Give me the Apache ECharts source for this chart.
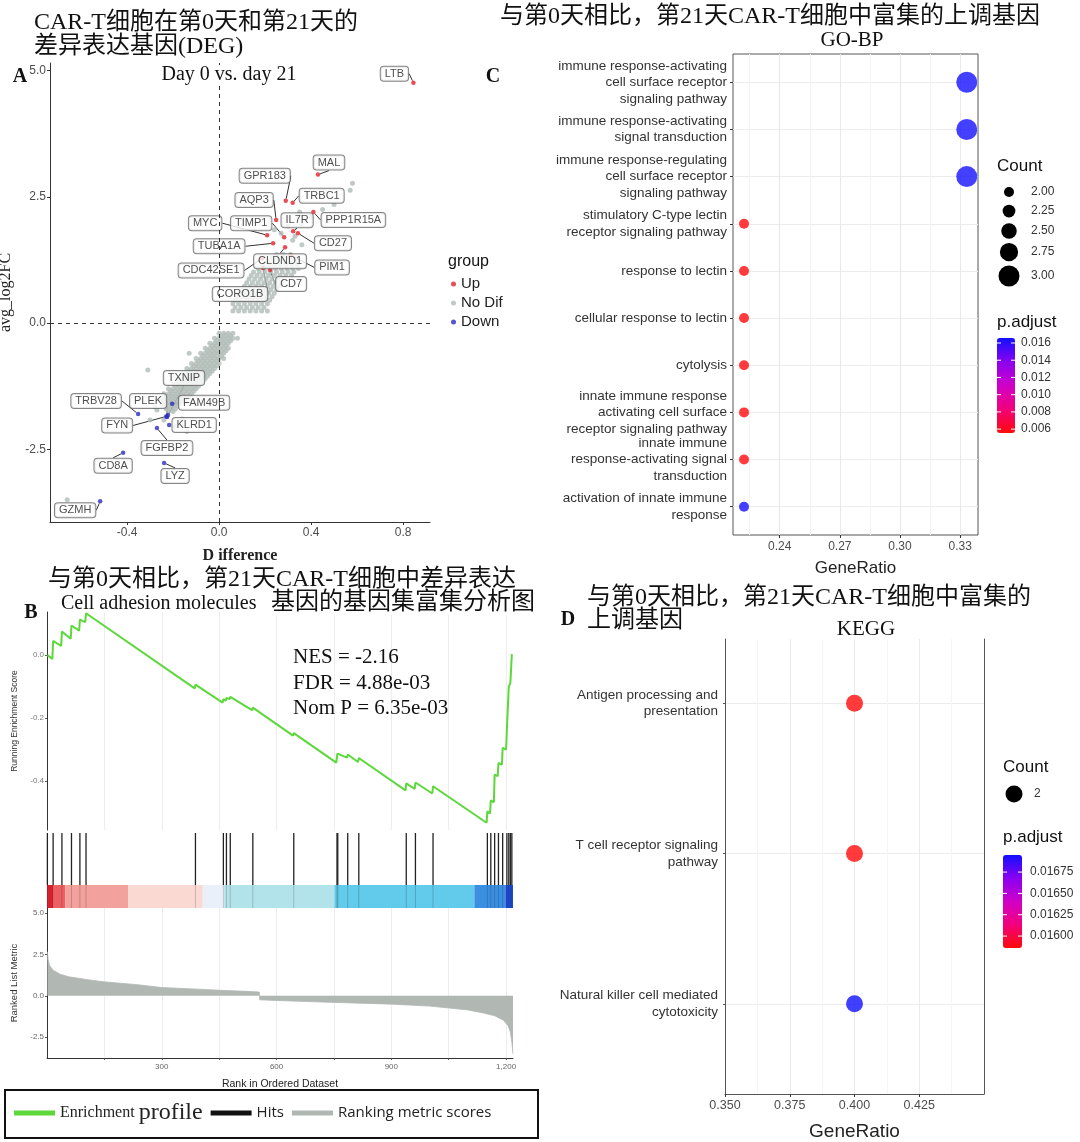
<!DOCTYPE html>
<html><head><meta charset="utf-8">
<script src="https://cdn.jsdelivr.net/npm/echarts@6/dist/echarts.min.js"></script>
<style>html,body{margin:0;padding:0;background:#fff}#c{width:1080px;height:1142px}</style>
</head><body><div id="c"></div><script>
// ================= DATA =================
// Panel A: "No Dif" genes read off the two dense gray clouds (upper and lower) plus scattered ones
const noDifUpper = [
 [0.06,0.24],[0.085,0.24],[0.11,0.24],[0.135,0.24],[0.16,0.24],[0.185,0.24],[0.21,0.24],
 [0.07,0.31],[0.095,0.31],[0.12,0.31],[0.145,0.31],[0.17,0.31],[0.195,0.31],
 [0.06,0.38],[0.085,0.38],[0.11,0.38],[0.135,0.38],[0.16,0.38],[0.185,0.38],[0.21,0.38],
 [0.07,0.45],[0.095,0.45],[0.12,0.45],[0.145,0.45],[0.17,0.45],[0.195,0.45],[0.22,0.45],
 [0.08,0.52],[0.105,0.52],[0.13,0.52],[0.155,0.52],[0.18,0.52],[0.205,0.52],[0.23,0.52],
 [0.09,0.59],[0.115,0.59],[0.14,0.59],[0.165,0.59],[0.19,0.59],[0.215,0.59],[0.24,0.59],
 [0.10,0.66],[0.125,0.66],[0.15,0.66],[0.175,0.66],[0.20,0.66],[0.225,0.66],[0.25,0.66],
 [0.11,0.73],[0.135,0.73],[0.16,0.73],[0.185,0.73],[0.21,0.73],[0.235,0.73],[0.26,0.73],
 [0.12,0.80],[0.145,0.80],[0.17,0.80],[0.195,0.80],[0.22,0.80],[0.245,0.80],[0.27,0.80],
 [0.13,0.87],[0.155,0.87],[0.18,0.87],[0.205,0.87],[0.23,0.87],[0.255,0.87],[0.28,0.87],
 [0.14,0.94],[0.165,0.94],[0.19,0.94],[0.215,0.94],[0.24,0.94],[0.265,0.94],[0.29,0.94],[0.315,0.94],
 [0.15,1.01],[0.175,1.01],[0.20,1.01],[0.225,1.01],[0.25,1.01],[0.275,1.01],[0.30,1.01],[0.325,1.01],
 [0.17,1.08],[0.195,1.08],[0.22,1.08],[0.245,1.08],[0.27,1.08],[0.295,1.08],[0.32,1.08],[0.345,1.08],
 [0.19,1.15],[0.215,1.15],[0.24,1.15],[0.265,1.15],[0.29,1.15],[0.315,1.15],[0.34,1.15],
 [0.21,1.22],[0.235,1.22],[0.26,1.22],[0.285,1.22],[0.31,1.22],[0.335,1.22],
 [0.23,1.29],[0.255,1.29],[0.28,1.29],[0.305,1.29],[0.33,1.29],
 [0.25,1.36],[0.28,1.36],[0.31,1.36]
];
const noDifLower = [
 [0.00,-0.20],[0.02,-0.20],[0.04,-0.20],[0.06,-0.20],
 [0.01,-0.25],[0.03,-0.25],[0.05,-0.25],
 [-0.02,-0.30],[0.00,-0.30],[0.02,-0.30],[0.04,-0.30],[0.06,-0.30],
 [-0.01,-0.35],[0.01,-0.35],[0.03,-0.35],[0.05,-0.35],
 [-0.04,-0.40],[-0.02,-0.40],[0.00,-0.40],[0.02,-0.40],[0.04,-0.40],
 [-0.03,-0.45],[-0.01,-0.45],[0.01,-0.45],[0.03,-0.45],
 [-0.06,-0.50],[-0.04,-0.50],[-0.02,-0.50],[0.00,-0.50],[0.02,-0.50],[0.04,-0.50],
 [-0.05,-0.55],[-0.03,-0.55],[-0.01,-0.55],[0.01,-0.55],[0.03,-0.55],
 [-0.08,-0.60],[-0.06,-0.60],[-0.04,-0.60],[-0.02,-0.60],[0.00,-0.60],[0.02,-0.60],
 [-0.07,-0.65],[-0.05,-0.65],[-0.03,-0.65],[-0.01,-0.65],[0.01,-0.65],
 [-0.10,-0.70],[-0.08,-0.70],[-0.06,-0.70],[-0.04,-0.70],[-0.02,-0.70],[0.00,-0.70],[0.02,-0.70],
 [-0.09,-0.75],[-0.07,-0.75],[-0.05,-0.75],[-0.03,-0.75],[-0.01,-0.75],
 [-0.12,-0.80],[-0.10,-0.80],[-0.08,-0.80],[-0.06,-0.80],[-0.04,-0.80],[-0.02,-0.80],[0.00,-0.80],
 [-0.11,-0.85],[-0.09,-0.85],[-0.07,-0.85],[-0.05,-0.85],[-0.03,-0.85],[-0.01,-0.85],
 [-0.14,-0.90],[-0.12,-0.90],[-0.10,-0.90],[-0.08,-0.90],[-0.06,-0.90],[-0.04,-0.90],[-0.02,-0.90],
 [-0.13,-0.95],[-0.11,-0.95],[-0.09,-0.95],[-0.07,-0.95],[-0.05,-0.95],[-0.03,-0.95],
 [-0.16,-1.00],[-0.14,-1.00],[-0.12,-1.00],[-0.10,-1.00],[-0.08,-1.00],[-0.06,-1.00],[-0.04,-1.00],
 [-0.15,-1.05],[-0.13,-1.05],[-0.11,-1.05],[-0.09,-1.05],[-0.07,-1.05],[-0.05,-1.05],
 [-0.18,-1.10],[-0.16,-1.10],[-0.14,-1.10],[-0.12,-1.10],[-0.10,-1.10],[-0.08,-1.10],[-0.06,-1.10],
 [-0.17,-1.15],[-0.15,-1.15],[-0.13,-1.15],[-0.11,-1.15],[-0.09,-1.15],[-0.07,-1.15],
 [-0.20,-1.20],[-0.18,-1.20],[-0.16,-1.20],[-0.14,-1.20],[-0.12,-1.20],[-0.10,-1.20],[-0.08,-1.20],
 [-0.19,-1.25],[-0.17,-1.25],[-0.15,-1.25],[-0.13,-1.25],[-0.11,-1.25],[-0.09,-1.25],
 [-0.22,-1.30],[-0.20,-1.30],[-0.18,-1.30],[-0.16,-1.30],[-0.14,-1.30],[-0.12,-1.30],[-0.10,-1.30],
 [-0.21,-1.35],[-0.19,-1.35],[-0.17,-1.35],[-0.15,-1.35],[-0.13,-1.35],[-0.11,-1.35],
 [-0.24,-1.40],[-0.22,-1.40],[-0.20,-1.40],[-0.18,-1.40],[-0.16,-1.40],[-0.14,-1.40],[-0.12,-1.40],
 [-0.23,-1.45],[-0.21,-1.45],[-0.19,-1.45],[-0.17,-1.45],[-0.15,-1.45],[-0.13,-1.45],
 [-0.25,-1.50],[-0.23,-1.50],[-0.21,-1.50],[-0.19,-1.50],[-0.17,-1.50],[-0.15,-1.50],
 [-0.24,-1.55],[-0.22,-1.55],[-0.20,-1.55],[-0.18,-1.55],[-0.16,-1.55],
 [-0.25,-1.60],[-0.23,-1.60],[-0.21,-1.60],[-0.19,-1.60],[-0.17,-1.60],
 [-0.24,-1.65],[-0.22,-1.65],[-0.20,-1.65],[-0.18,-1.65],
 [-0.23,-1.70],[-0.21,-1.70],[-0.19,-1.70],[-0.22,-1.75],[-0.20,-1.75]
];
const noDifSparse = [
 [0.24,1.85],[0.36,1.95],[0.30,1.92],[0.40,2.10],[0.35,2.20],[0.32,1.64],[0.36,1.55],[0.27,1.78],[0.33,1.72],
 [0.57,2.63],[0.58,2.77],[0.50,2.35],[0.45,2.25],
 [-0.31,-0.93],[-0.13,-0.60],[-0.28,-1.66],[-0.24,-1.92],[-0.27,-1.72],[-0.16,-1.90],[-0.19,-2.05],
 [-0.14,-2.15],[-0.30,-1.92],[0.08,-0.30],[-0.66,-3.50]
];
const upGenes  = ['LTB','MAL','GPR183','TRBC1','PPP1R15A','AQP3','IL7R','CD27','MYC','TIMP1','TUBA1A','CLDND1','PIM1','CDC42SE1','CD7','CORO1B'];
const upDiff   = [0.845,0.43,0.29,0.32,0.41,0.248,0.322,0.343,0.209,0.283,0.235,0.287,0.313,0.187,0.222,0.191];
const upLogFC  = [4.76,2.94,2.42,2.38,2.20,2.04,1.82,1.78,1.74,1.70,1.58,1.50,1.34,1.28,1.05,1.09];
const downGenes = ['TXNIP','TRBV28','PLEK','FAM49B','FYN','KLRD1','FGFBP2','CD8A','LYZ','GZMH'];
const downDiff  = [-0.222,-0.352,-0.226,-0.204,-0.230,-0.217,-0.270,-0.417,-0.239,-0.517];
const downLogFC = [-1.82,-1.80,-1.86,-1.60,-1.85,-2.02,-2.08,-2.57,-2.77,-3.53];
const aTicksX = [-0.4,0,0.4,0.8];
const aTicksY = [-2.5,0,2.5,5];

// Panel C: GO-BP dot plot
const goTerms = [
 'immune response-activating\ncell surface receptor\nsignaling pathway',
 'immune response-activating\nsignal transduction',
 'immune response-regulating\ncell surface receptor\nsignaling pathway',
 'stimulatory C-type lectin\nreceptor signaling pathway',
 'response to lectin',
 'cellular response to lectin',
 'cytolysis',
 'innate immune response\nactivating cell surface\nreceptor signaling pathway',
 'innate immune\nresponse-activating signal\ntransduction',
 'activation of innate immune\nresponse'
];
const goGeneRatio = [0.3333,0.3333,0.3333,0.2222,0.2222,0.2222,0.2222,0.2222,0.2222,0.2222];
const goCount     = [3,3,3,2,2,2,2,2,2,2];
const goPAdjust   = [0.0165,0.0165,0.0165,0.0056,0.0056,0.0056,0.0056,0.0056,0.0056,0.0165];
const goTicksX = [0.24,0.27,0.30,0.33];
const goMinorX = [0.225,0.255,0.285,0.315];
const goCountLegend = [2.00,2.25,2.50,2.75,3.00];
const goPadjTicks = [0.006,0.008,0.010,0.012,0.014,0.016];

// Panel B: GSEA
const esRank = [1,14,16,37,39,62,64,84,86,100,102,386,388,459,461,467,469,477,479,536,538,643,645,756,759,784,786,813,815,
 937,939,961,963,1007,1009,1149,1151,1158,1160,1168,1170,1178,1180,1189,1191,1200,1202,1205,1207,1209,1211,1213,1215];
const esValue = [0.0,-0.012,0.045,0.029,0.075,0.052,0.094,0.078,0.113,0.105,0.133,-0.106,-0.094,-0.151,-0.140,-0.145,-0.136,-0.140,-0.133,
 -0.175,-0.167,-0.256,-0.248,-0.342,-0.313,-0.326,-0.316,-0.340,-0.327,-0.430,-0.408,-0.425,-0.405,-0.440,-0.417,-0.533,-0.497,
 -0.503,-0.462,-0.468,-0.380,-0.385,-0.343,-0.348,-0.295,-0.300,-0.235,-0.238,-0.100,-0.102,-0.090,-0.092,0.003];
const hitRanks = [1,16,39,64,86,102,388,461,469,479,538,645,758,760,786,815,939,963,1009,1151,1160,1170,1180,1191,1202,1207,1211,1215];
const barStart = [0,16,48,212,407,463,751,1117,1198];
const barEnd   = [16,48,212,407,463,751,1117,1198,1218];
const barColors = ['#d8202e','#ec5f63','#f3a19d','#fad9d3','#eaf0fa','#b3e3ea','#62caea','#3b8fe1','#1f4fd8'];
const metricRank  = [1,3,7,16,34,57,102,147,237,300,380,450,520,555,556,600,700,800,900,1000,1050,1100,1140,1170,1193,1205,1211,1215,1218];
const metricValue = [2.66,2.16,1.81,1.55,1.31,1.15,0.99,0.85,0.67,0.50,0.42,0.34,0.27,0.23,-0.24,-0.28,-0.36,-0.43,-0.50,-0.62,-0.73,-0.85,-1.03,-1.20,-1.47,-1.80,-2.18,-2.80,-3.50];
const rankTicks = [300,600,900,1200];
const rankGrid = [150,300,450,600,750,900,1050,1200];
const esTicks = [-0.4,-0.2,0.0];
const metricTicks = [-2.5,0,2.5,5];

// Panel D: KEGG dot plot
const keggTerms = ['Antigen processing and\npresentation','T cell receptor signaling\npathway','Natural killer cell mediated\ncytotoxicity'];
const keggGeneRatio = [0.4,0.4,0.4];
const keggCount = [2,2,2];
const keggPAdjust = [0.01586,0.01586,0.01695];
const keggTicksX = [0.35,0.375,0.4,0.425];
const keggMinorX = [0.3625,0.3875,0.4125,0.4375];
const keggPadjTicks = [0.016,0.01625,0.0165,0.01675];

// ================= LAYOUT / STYLE =================
const SANS = "'Liberation Sans', Arial, sans-serif";
const SERIF = "'Liberation Serif', 'Times New Roman', serif";
const TITLE = "'Liberation Serif', 'Noto Sans CJK SC', serif";
const labelOffsetA = {
 LTB:[-19,-9], MAL:[11,-12], GPR183:[-21,-25], TRBC1:[29,-7], PPP1R15A:[40,8], AQP3:[-22,-20], IL7R:[4,-11], CD27:[35,10],
 MYC:[-62,-12], TIMP1:[-33,-14], TUBA1A:[-54,3], CLDND1:[-5,14], PIM1:[41,12], CDC42SE1:[-51,12], CD7:[21,14], CORO1B:[-23,26],
 TXNIP:[16,-37], TRBV28:[-42,-13], PLEK:[-19,-16], FAM49B:[32,-1], FYN:[-49,9], KLRD1:[25,0], FGFBP2:[10,20], CD8A:[-10,13], LYZ:[11,13], GZMH:[-25,9]
};
const sizeC = v => 10 + (v - 2) * 11;
const sizeD = v => 17;
const cVM = {min:0.00555, max:0.01658, left:997, top:338, w:18, h:95};
const dVM = {min:0.01586, max:0.01695, left:1003, top:855, w:19, h:93};
const gradColors = ['#ff0a0a','#f2007c','#d000c8','#8a00f0','#1010ff'];

function txt(text, x, y, size, o) {
  o = o || {};
  const st = {text: text, fontSize: size, fontFamily: o.family || SANS, fill: o.color || '#111',
    align: o.align || 'left', verticalAlign: 'middle', fontWeight: o.weight || 'normal'};
  if (o.bg) { st.backgroundColor = o.bg; st.padding = o.pad || [0, 2]; }
  return {type: 'text', x: x, y: y, z: 100, style: st};
}
function geneItems(names, xs, ys) {
  return names.map((n, i) => ({name: n, value: [xs[i], ys[i]]}));
}
function geneLabelLayout(names) {
  return function (p) { const o = labelOffsetA[names[p.dataIndex]] || [0, 0]; return {dx: o[0], dy: o[1]}; };
}
const geneLabel = {show: true, position: 'inside', formatter: '{b}', fontSize: 11, fontFamily: SANS, color: '#222',
  backgroundColor: '#fff', borderColor: '#666', borderWidth: 1, borderRadius: 3, padding: [2, 4, 1, 4]};

const graphics = [];
// Panel A texts
graphics.push(txt('CAR-T细胞在第0天和第21天的', 34, 23, 24, {family: TITLE}));
graphics.push(txt('差异表达基因(DEG)', 34, 47, 24, {family: TITLE}));
graphics.push(txt('A', 20, 77, 20, {family: SERIF, weight: 'bold', align: 'center'}));
graphics.push(txt('Day 0 vs. day 21', 229, 75, 20, {family: SERIF, align: 'center', bg: '#fff'}));
graphics.push(txt('group', 448, 262, 16));
// Panel C texts
graphics.push(txt('与第0天相比，第21天CAR-T细胞中富集的上调基因', 500, 17, 24, {family: TITLE}));
graphics.push(txt('GO-BP', 852, 40, 21, {family: SERIF, align: 'center'}));
graphics.push(txt('C', 493, 77, 20, {family: SERIF, weight: 'bold', align: 'center'}));
graphics.push(txt('Count', 997, 166, 17));
const cCountY = [192, 211, 231, 252, 276];
goCountLegend.forEach((v, i) => {
  graphics.push({type: 'circle', z: 100, shape: {cx: 1009, cy: cCountY[i], r: sizeC(v) / 2}, style: {fill: '#000'}});
  graphics.push(txt(v.toFixed(2), 1031, cCountY[i], 12, {color: '#333'}));
});
graphics.push(txt('p.adjust', 997, 322, 17));
goPadjTicks.forEach(v => {
  const y = cVM.top + (cVM.max - v) / (cVM.max - cVM.min) * cVM.h;
  graphics.push(txt(v.toFixed(3), cVM.left + cVM.w + 6, y, 12, {color: '#333'}));
  graphics.push({type: 'line', z: 101, shape: {x1: cVM.left, y1: y, x2: cVM.left + 4, y2: y}, style: {stroke: '#fff', lineWidth: 1}});
  graphics.push({type: 'line', z: 101, shape: {x1: cVM.left + cVM.w - 4, y1: y, x2: cVM.left + cVM.w, y2: y}, style: {stroke: '#fff', lineWidth: 1}});
});
// Panel B texts
graphics.push(txt('与第0天相比，第21天CAR-T细胞中差异表达', 48, 580, 24, {family: TITLE}));
graphics.push(txt('Cell adhesion molecules', 61, 604, 20, {family: SERIF}));
graphics.push(txt('基因的基因集富集分析图', 269, 603, 24, {family: TITLE, bg: '#fff', pad: [0, 0, 0, 2]}));
graphics.push(txt('B', 31, 613, 20, {family: SERIF, weight: 'bold', align: 'center'}));
graphics.push(txt('NES = -2.16', 293, 657, 21, {family: SERIF}));
graphics.push(txt('FDR = 4.88e-03', 293, 683, 21, {family: SERIF}));
graphics.push(txt('Nom P = 6.35e-03', 293, 708, 21, {family: SERIF}));
graphics.push({type: 'rect', z: 100, shape: {x: 5, y: 1090, width: 533, height: 48}, style: {fill: 'none', stroke: '#111', lineWidth: 2}});
// Panel D texts
graphics.push(txt('与第0天相比，第21天CAR-T细胞中富集的', 587, 598, 24, {family: TITLE}));
graphics.push(txt('上调基因', 587, 621, 24, {family: TITLE, bg: '#fff', pad: [0, 0]}));
graphics.push(txt('D', 568, 620, 20, {family: SERIF, weight: 'bold', align: 'center'}));
graphics.push(txt('KEGG', 866, 629, 21, {family: SERIF, align: 'center'}));
graphics.push(txt('Count', 1003, 767, 17));
graphics.push({type: 'circle', z: 100, shape: {cx: 1014, cy: 794, r: sizeD(2) / 2}, style: {fill: '#000'}});
graphics.push(txt('2', 1034, 794, 12, {color: '#333'}));
graphics.push(txt('p.adjust', 1003, 837, 17));
keggPadjTicks.forEach(v => {
  const y = dVM.top + (dVM.max - v) / (dVM.max - dVM.min) * dVM.h;
  graphics.push(txt(v.toFixed(5), dVM.left + dVM.w + 8, y, 12, {color: '#333'}));
  graphics.push({type: 'line', z: 101, shape: {x1: dVM.left, y1: y, x2: dVM.left + 4, y2: y}, style: {stroke: '#fff', lineWidth: 1}});
  graphics.push({type: 'line', z: 101, shape: {x1: dVM.left + dVM.w - 4, y1: y, x2: dVM.left + dVM.w, y2: y}, style: {stroke: '#fff', lineWidth: 1}});
});

const axisTxt = (size, color) => ({fontSize: size, fontFamily: SANS, color: color || '#4d4d4d'});
const hidden = {show: false};
const gridLine = c => ({show: true, lineStyle: {color: c || '#ebebeb', width: 1}});

const option = {
  animation: false,
  backgroundColor: '#fff',
  graphic: graphics,
  grid: [
    {left: 50, top: 63, width: 380, height: 459, outerBoundsMode: 'none'},
    {left: 733, top: 54, width: 245, height: 481, show: true, borderColor: '#555', borderWidth: 1, backgroundColor: 'transparent', outerBoundsMode: 'none'},
    {left: 47, top: 612, width: 466, height: 218, outerBoundsMode: 'none'},
    {left: 47, top: 833, width: 466, height: 75, outerBoundsMode: 'none'},
    {left: 47, top: 908, width: 466, height: 150, outerBoundsMode: 'none'},
    {left: 725, top: 639, width: 259, height: 455, outerBoundsMode: 'none'}
  ],
  xAxis: [
    {gridIndex: 0, type: 'value', min: -0.735, max: 0.917,
      axisLine: {show: true, onZero: false, lineStyle: {color: '#333'}},
      axisTick: {show: true, length: 3, customValues: aTicksX, lineStyle: {color: '#333'}},
      axisLabel: Object.assign({customValues: aTicksX, margin: 5, formatter: v => v.toFixed(1)}, axisTxt(12)),
      splitLine: hidden,
      name: 'D ifference', nameLocation: 'middle', nameGap: 26,
      nameTextStyle: {fontFamily: SERIF, fontSize: 16, fontWeight: 'bold', color: '#222'}},
    {gridIndex: 1, type: 'value', min: 0.2167, max: 0.3389, position: 'bottom',
      axisLine: {show: false, onZero: false},
      axisTick: {show: true, length: 3, customValues: goTicksX, lineStyle: {color: '#333'}},
      axisLabel: Object.assign({customValues: goTicksX, margin: 6, formatter: v => v.toFixed(2)}, axisTxt(12)),
      splitLine: gridLine('#e9e9e9'),
      name: 'GeneRatio', nameLocation: 'middle', nameGap: 25,
      nameTextStyle: {fontFamily: SANS, fontSize: 17, color: '#222'}},
    {gridIndex: 1, type: 'value', min: 0.2167, max: 0.3389, position: 'bottom',
      axisLine: {show: false, onZero: false}, axisLabel: {show: false},
      axisTick: {show: false, customValues: goMinorX},
      splitLine: gridLine('#f4f4f4')},
    {gridIndex: 2, type: 'value', min: 0, max: 1218,
      axisLine: {show: false, onZero: false}, axisLabel: {show: false},
      axisTick: {show: false, customValues: rankGrid},
      splitLine: gridLine('#ededed')},
    {gridIndex: 3, type: 'value', min: 0, max: 1218, show: false},
    {gridIndex: 4, type: 'value', min: 0, max: 1218,
      axisLine: {show: true, onZero: false, lineStyle: {color: '#333'}},
      axisTick: {show: true, length: 2, customValues: rankGrid, lineStyle: {color: '#555'}},
      axisLabel: Object.assign({customValues: rankTicks, margin: 5}, axisTxt(8, '#666')),
      splitLine: gridLine('#ededed'),
      name: 'Rank in Ordered Dataset', nameLocation: 'middle', nameGap: 21,
      nameTextStyle: {fontFamily: SANS, fontSize: 10.5, color: '#222'}},
    {gridIndex: 5, type: 'value', min: 0.35, max: 0.45, position: 'bottom',
      axisLine: {show: true, onZero: false, lineStyle: {color: '#555'}},
      axisTick: {show: true, length: 3, customValues: keggTicksX, lineStyle: {color: '#333'}},
      axisLabel: Object.assign({customValues: keggTicksX, margin: 5, formatter: v => v.toFixed(3)}, axisTxt(12.5)),
      splitLine: gridLine('#ebebeb'),
      name: 'GeneRatio', nameLocation: 'middle', nameGap: 28,
      nameTextStyle: {fontFamily: SANS, fontSize: 19, color: '#222'}},
    {gridIndex: 5, type: 'value', min: 0.35, max: 0.45, position: 'bottom',
      axisLine: {show: false, onZero: false}, axisLabel: {show: false},
      axisTick: {show: false, customValues: keggMinorX},
      splitLine: gridLine('#f5f5f5')}
  ],
  yAxis: [
    {gridIndex: 0, type: 'value', min: -3.94, max: 5.15,
      axisLine: {show: true, onZero: false, lineStyle: {color: '#333'}},
      axisTick: {show: true, length: 3, customValues: aTicksY, lineStyle: {color: '#333'}},
      axisLabel: Object.assign({customValues: aTicksY, margin: 4, formatter: v => v.toFixed(1)}, axisTxt(12)),
      splitLine: hidden,
      name: 'avg_log2FC', nameLocation: 'middle', nameGap: 36, nameRotate: 90,
      nameTextStyle: {fontFamily: SERIF, fontSize: 16, color: '#222'}},
    {gridIndex: 1, type: 'value', inverse: true, min: -0.6, max: 9.6,
      axisLine: {show: false, onZero: false},
      axisTick: {show: true, length: 3, customValues: goTerms.map((t, i) => i), lineStyle: {color: '#333'}},
      axisLabel: {customValues: goTerms.map((t, i) => i), formatter: v => goTerms[Math.round(v)], fontSize: 13.5, lineHeight: 16.5,
        fontFamily: SANS, color: '#333', align: 'right', margin: 6},
      splitLine: gridLine('#ececec')},
    {gridIndex: 2, type: 'value', min: -0.556, max: 0.137,
      axisLine: {show: true, onZero: false, lineStyle: {color: '#333'}},
      axisTick: {show: true, length: 2, customValues: esTicks, lineStyle: {color: '#555'}},
      axisLabel: Object.assign({customValues: esTicks, margin: 3, formatter: v => v.toFixed(1)}, axisTxt(8, '#777')),
      splitLine: hidden,
      name: 'Running Enrichment Score', nameLocation: 'middle', nameGap: 28, nameRotate: 90,
      nameTextStyle: {fontFamily: SANS, fontSize: 8.5, color: '#333'}},
    {gridIndex: 3, type: 'value', min: 0, max: 1, show: false},
    {gridIndex: 4, type: 'value', min: -3.75, max: 5.3,
      axisLine: {show: true, onZero: false, lineStyle: {color: '#333'}},
      axisTick: {show: true, length: 2, customValues: metricTicks, lineStyle: {color: '#555'}},
      axisLabel: Object.assign({customValues: metricTicks, margin: 3, formatter: v => v.toFixed(1)}, axisTxt(8, '#666')),
      splitLine: hidden,
      name: 'Ranked List Metric', nameLocation: 'middle', nameGap: 28, nameRotate: 90,
      nameTextStyle: {fontFamily: SANS, fontSize: 9.5, color: '#333'}},
    {gridIndex: 5, type: 'value', inverse: true, min: -0.427, max: 2.6,
      axisLine: {show: true, onZero: false, lineStyle: {color: '#555'}},
      axisTick: {show: true, length: 2, customValues: [0, 1, 2], lineStyle: {color: '#555'}},
      axisLabel: {customValues: [0, 1, 2], formatter: v => keggTerms[Math.round(v)], fontSize: 13.5, lineHeight: 16.7,
        fontFamily: SANS, color: '#333', align: 'right', margin: 7},
      splitLine: gridLine('#ececec')},
    {gridIndex: 5, type: 'value', inverse: true, min: -0.427, max: 2.6, position: 'right',
      axisLine: {show: true, onZero: false, lineStyle: {color: '#555'}},
      axisTick: {show: false}, axisLabel: {show: false}, splitLine: {show: false}}
  ],
  visualMap: [
    {type: 'continuous', seriesIndex: 3, dimension: 3, min: cVM.min, max: cVM.max, inRange: {color: gradColors},
      left: cVM.left, top: cVM.top, itemWidth: cVM.w, itemHeight: cVM.h, calculable: false, hoverLink: false,
      text: null, padding: 0, orient: 'vertical', showLabel: false},
    {type: 'continuous', seriesIndex: 8, dimension: 3, min: dVM.min, max: dVM.max, inRange: {color: gradColors},
      left: dVM.left, top: dVM.top, itemWidth: dVM.w, itemHeight: dVM.h, calculable: false, hoverLink: false,
      text: null, padding: 0, orient: 'vertical', showLabel: false}
  ],
  legend: [
    {data: ['Up', 'No Dif', 'Down'], left: 451, top: 276, orient: 'vertical', icon: 'circle', itemWidth: 5, itemHeight: 5,
      itemGap: 3, selectedMode: false, padding: 0, textStyle: {fontFamily: SANS, fontSize: 15, color: '#222', lineHeight: 16}},
    {data: ['Enrichment profile', 'Hits', 'Ranking metric scores'], left: 14, top: 1101, orient: 'horizontal', icon: 'rect',
      itemWidth: 41, itemHeight: 5, itemGap: 8, selectedMode: false, padding: 0,
      formatter: n => n === 'Enrichment profile' ? '{s|Enrichment }{b|profile}' : '{n|' + n + '}',
      textStyle: {rich: {s: {fontFamily: SERIF, fontSize: 16, color: '#222'}, b: {fontFamily: SERIF, fontSize: 24, color: '#222'},
        n: {fontFamily: "'Open Sans', " + SANS, fontSize: 15, color: '#222'}}}}
  ],
  series: [
    {name: 'No Dif', type: 'scatter', xAxisIndex: 0, yAxisIndex: 0, data: noDifUpper.concat(noDifLower, noDifSparse), symbolSize: 5,
      itemStyle: {color: '#b0bcb6'}, silent: true,
      markLine: {silent: true, symbol: 'none', label: {show: false}, lineStyle: {type: [4, 4], color: '#333', width: 1},
        data: [{xAxis: 0}, {yAxis: 0}]}},
    {name: 'Up', type: 'scatter', xAxisIndex: 0, yAxisIndex: 0, data: geneItems(upGenes, upDiff, upLogFC), symbolSize: 4.5,
      itemStyle: {color: '#e3202b'}, label: geneLabel, labelLine: {show: true, lineStyle: {color: '#333', width: 1}},
      labelLayout: geneLabelLayout(upGenes)},
    {name: 'Down', type: 'scatter', xAxisIndex: 0, yAxisIndex: 0, data: geneItems(downGenes, downDiff, downLogFC), symbolSize: 4.5,
      itemStyle: {color: '#2a2abf'}, label: geneLabel, labelLine: {show: true, lineStyle: {color: '#333', width: 1}},
      labelLayout: geneLabelLayout(downGenes)},
    {name: 'GO-BP', type: 'scatter', xAxisIndex: 1, yAxisIndex: 1,
      data: goTerms.map((t, i) => [goGeneRatio[i], i, goCount[i], goPAdjust[i]]),
      symbolSize: v => sizeC(v[2])},
    {name: 'Enrichment profile', type: 'line', xAxisIndex: 3, yAxisIndex: 2, data: esRank.map((r, i) => [r, esValue[i]]),
      showSymbol: false, color: '#5cd83a', lineStyle: {width: 2, color: '#5cd83a'}},
    {name: 'RankBar', type: 'custom', xAxisIndex: 4, yAxisIndex: 3, data: barStart.map((s, i) => [s, 0, barEnd[i]]),
      renderItem: function (params, api) {
        const p0 = api.coord([api.value(0), 0.307]); const p1 = api.coord([api.value(2), 0]);
        return {type: 'rect', shape: {x: p0[0], y: p0[1], width: p1[0] - p0[0], height: p1[1] - p0[1]},
          style: {fill: barColors[params.dataIndex]}};
      }},
    {name: 'Hits', type: 'custom', xAxisIndex: 4, yAxisIndex: 3, data: hitRanks.map(r => [r, 0]), itemStyle: {color: '#111'},
      renderItem: function (params, api) {
        const t = api.coord([api.value(0), 1]); const m = api.coord([api.value(0), 0.307]); const b = api.coord([api.value(0), 0]);
        return {type: 'group', children: [
          {type: 'line', shape: {x1: t[0], y1: t[1], x2: m[0], y2: m[1]}, style: {stroke: '#222', lineWidth: 1.3}},
          {type: 'line', shape: {x1: m[0], y1: m[1], x2: b[0], y2: b[1]}, style: {stroke: 'rgba(0,0,0,0.18)', lineWidth: 1}}]};
      }},
    {name: 'Ranking metric scores', type: 'line', xAxisIndex: 5, yAxisIndex: 4, data: metricRank.map((r, i) => [r, metricValue[i]]),
      showSymbol: false, color: '#b1b8b4', lineStyle: {width: 0.8, color: '#b1b8b4'}, areaStyle: {color: '#b1b8b4', opacity: 1}},
    {name: 'KEGG', type: 'scatter', xAxisIndex: 6, yAxisIndex: 5,
      data: keggTerms.map((t, i) => [keggGeneRatio[i], i, keggCount[i], keggPAdjust[i]]),
      symbolSize: v => sizeD(v[2])}
  ]
};
const chart = echarts.init(document.getElementById('c'), null, {renderer: 'canvas', width: 1080, height: 1142});
chart.setOption(option);
</script></body></html>
